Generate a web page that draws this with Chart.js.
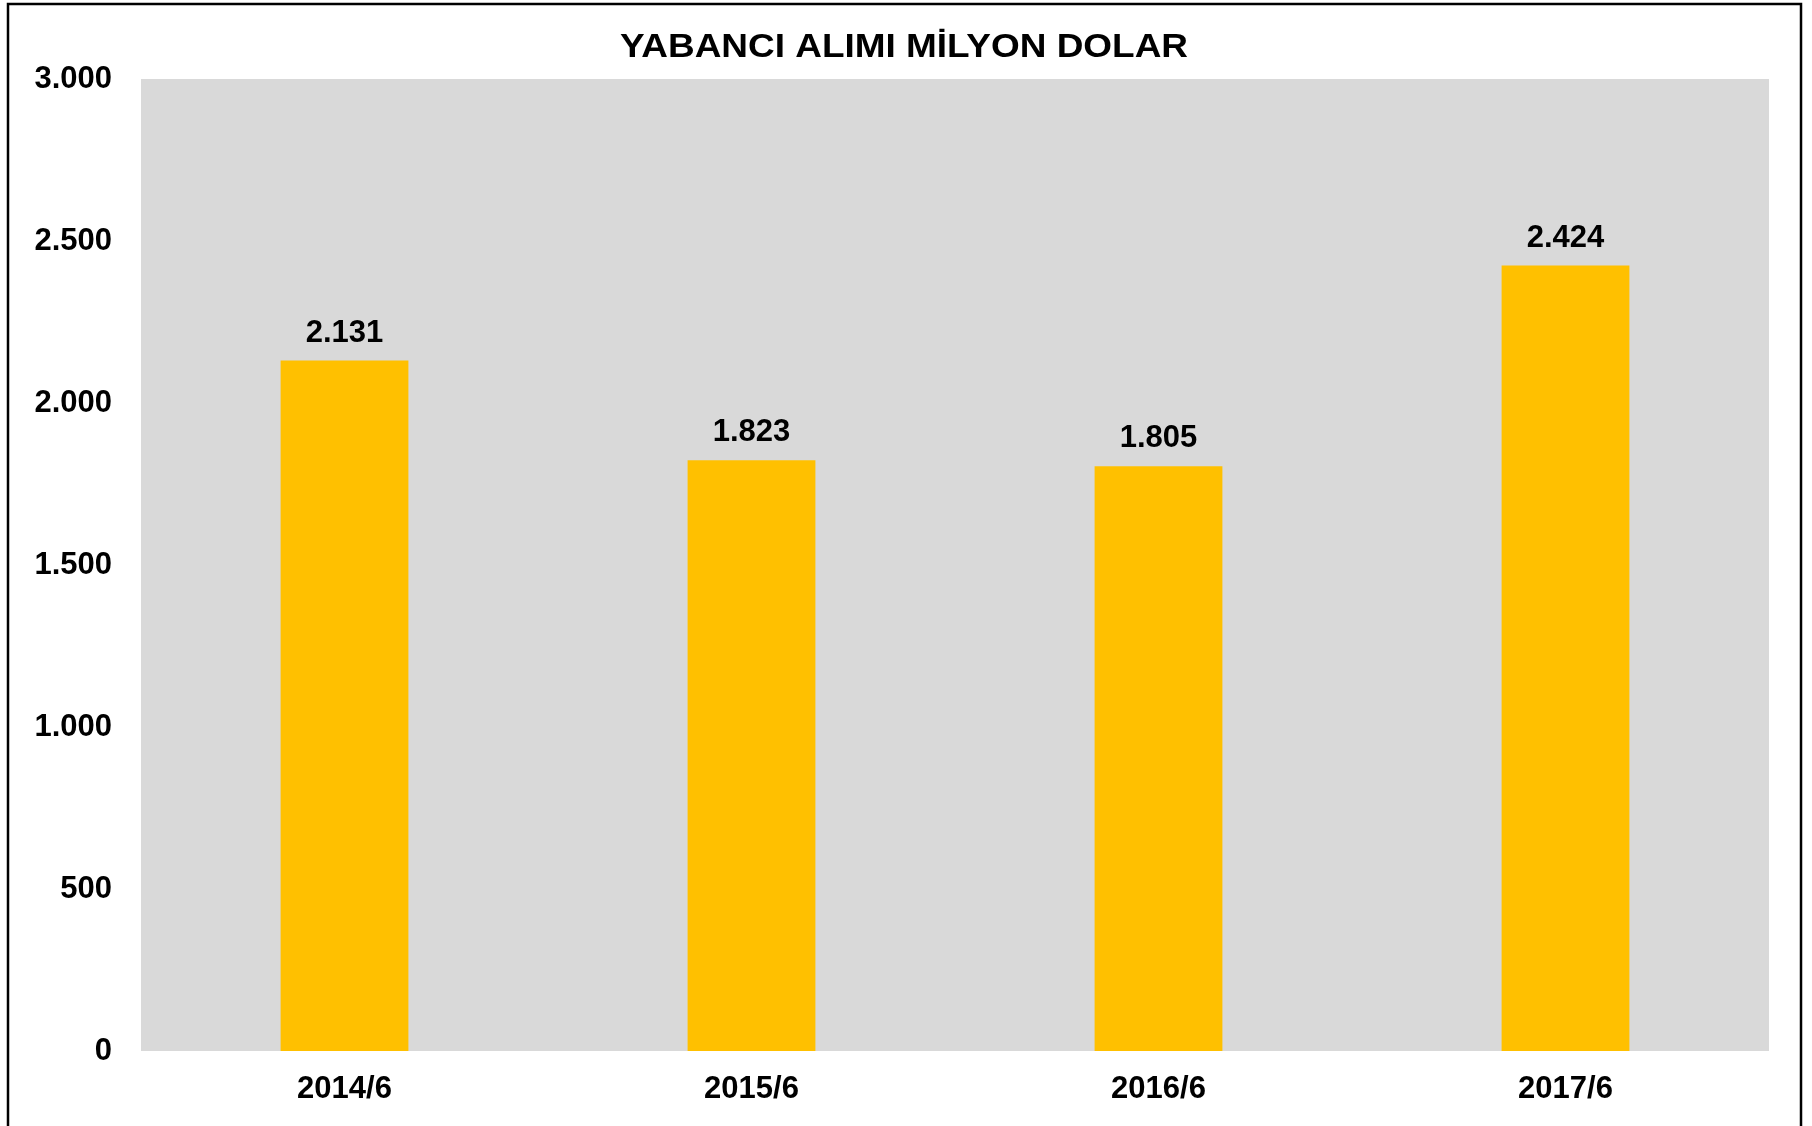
<!DOCTYPE html>
<html>
	<head>
		<meta charset="UTF-8">
		<title>YABANCI ALIMI MİLYON DOLAR</title>
		<script src="https://cdn.jsdelivr.net/npm/chart.js@4/dist/chart.umd.min.js"></script>
		<style type="text/css">
			*{
				margin: 0;
				padding: 0;
			}
			body{
				background: white;
			}
			#wrap{
				width: 1812px;
				height: 1126px;
			}
		</style>
	</head>
	<body>
		<div id="wrap">
			<canvas id="showChart"></canvas>
		</div>

		<script type="text/javascript">
			var categories=["2014/6","2015/6","2016/6","2017/6"];
			var values=[2131,1823,1805,2424];
			var yTicks=[0,500,1000,1500,2000,2500,3000];
			var chartTitle="YABANCI ALIMI MİLYON DOLAR";

			var fontFamily="'Liberation Sans', Arial, sans-serif";

			function fmt(n){
				return String(n).replace(/\B(?=(\d{3})+(?!\d))/g,".");
			}

			// white page, grey plot area, frame and the title over the whole width
			var backPlugin={
				id:"back",
				beforeDraw:function(chart){
					var ctx=chart.ctx;
					var a=chart.chartArea;
					ctx.save();
					ctx.fillStyle="#ffffff";
					ctx.fillRect(0,0,chart.width,chart.height);
					ctx.fillStyle="#d9d9d9";
					ctx.fillRect(a.left,a.top,a.right-a.left,a.bottom-a.top);
					ctx.strokeStyle="#000000";
					ctx.lineWidth=2.5;
					ctx.strokeRect(8,4,1793,1200);

					// title is a bit wider than the font, stretch it
					ctx.font="bold 34px "+fontFamily;
					ctx.fillStyle="#000000";
					ctx.textAlign="center";
					ctx.textBaseline="alphabetic";
					var w=ctx.measureText(chartTitle).width;
					ctx.translate(904,57);
					ctx.scale(568/w,1);
					ctx.fillText(chartTitle,0,0);
					ctx.restore();
				}
			};

			// numbers over the bars
			var labelPlugin={
				id:"valueLabels",
				afterDatasetsDraw:function(chart){
					var ctx=chart.ctx;
					var meta=chart.getDatasetMeta(0);
					ctx.save();
					ctx.font="bold 31px "+fontFamily;
					ctx.fillStyle="#000000";
					ctx.textAlign="center";
					ctx.textBaseline="alphabetic";
					meta.data.forEach(function(bar,i){
						ctx.fillText(fmt(values[i]),bar.x,bar.y-19);
					});
					ctx.restore();
				}
			};

			var data={
				labels:categories,
				datasets:[
					{
						data:values,
						backgroundColor:"#ffc000",
						borderWidth:0,
						barPercentage:0.314,
						categoryPercentage:1
					}
				]
			};

			var ctx=document.getElementById("showChart").getContext("2d");
			var chart=new Chart(ctx,{
				type:"bar",
				data:data,
				plugins:[backPlugin,labelPlugin],
				options:{
					responsive:true,
					maintainAspectRatio:false,
					animation:false,
					layout:{
						padding:{left:0,right:43,top:79,bottom:20}
					},
					plugins:{
						legend:{display:false},
						tooltip:{enabled:false},
						title:{display:false}
					},
					scales:{
						x:{
							grid:{display:false,drawTicks:false},
							border:{display:false},
							afterFit:function(scale){
								scale.height=55;
							},
							ticks:{
								color:"#000000",
								font:{family:fontFamily,size:31,weight:"bold"},
								padding:20
							}
						},
						y:{
							min:yTicks[0],
							max:yTicks[yTicks.length-1],
							grid:{display:false,drawTicks:false},
							border:{display:false},
							afterFit:function(scale){
								scale.width=141;
								scale.paddingTop=0;
								scale.paddingBottom=0;
							},
							afterBuildTicks:function(scale){
								scale.ticks=yTicks.map(function(v){return {value:v};});
							},
							ticks:{
								color:"#000000",
								font:{family:fontFamily,size:31,weight:"bold"},
								padding:29,
								callback:function(v){return fmt(v);}
							}
						}
					}
				}
			});
		</script>
	</body>
</html>
